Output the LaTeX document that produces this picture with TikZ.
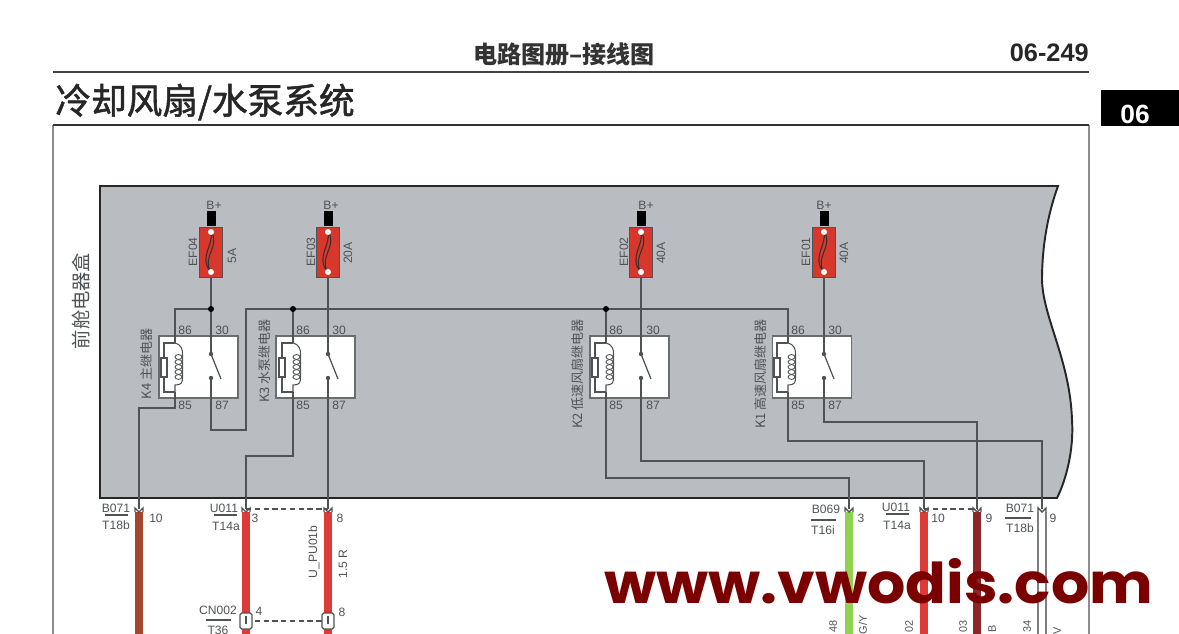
\documentclass[tikz,border=0pt]{standalone}
\usepackage{fontspec}
\setmainfont{Liberation Sans}
\newfontfamily\cjk{Noto Sans CJK SC}
\newfontfamily\cjkmed[FakeBold=1.5]{Noto Sans CJK SC}
\newfontfamily\wmfont{Poppins}
\usetikzlibrary{positioning,arrows.meta}
\definecolor{boxgray}{HTML}{B9BCC1}
\definecolor{inkgray}{HTML}{505355}
\definecolor{fusered}{HTML}{D8372B}
\definecolor{wirered}{HTML}{DE3A38}
\definecolor{wiredark}{HTML}{8E2528}
\definecolor{wirebrown}{HTML}{A5452E}
\definecolor{wiregreen}{HTML}{8FD24F}
\definecolor{wmred}{HTML}{7A0000}
\tikzset{
  wire/.style={draw=inkgray,line width=0.8pt},
  label/.style={inner sep=0pt,text=inkgray,font=\fontsize{6.9}{8}\selectfont},
  vlabel/.style={label,rotate=90},
  cnlabel/.style={vlabel,font=\cjk\fontsize{7.4}{8}\selectfont},
  fusebody/.style={draw=inkgray,line width=0.5pt,fill=fusered,minimum width=0.45cm,minimum height=1cm,inner sep=0pt},
  terminal/.style={fill=black,minimum width=0.18cm,minimum height=0.3cm,inner sep=0pt},
  relaybody/.style={draw=inkgray!85,line width=0.7pt,fill=white,minimum width=1.58cm,minimum height=1.24cm,inner sep=0pt},
  harness/.style={line width=5pt},
  pinbox/.style={draw=inkgray,line width=0.7pt,fill=white,minimum width=0.24cm,minimum height=0.32cm,inner sep=0pt,rounded corners=1pt}
}
\begin{document}
\begin{tikzpicture}[x=0.02cm,y=-0.02cm]
  \pgfmathsetmacro {\fa}{211} %Fuse EF04 and switch K4
  \pgfmathsetmacro {\fb}{328} %Fuse EF03 and switch K3
  \pgfmathsetmacro {\fc}{641} %Fuse EF02 and switch K2
  \pgfmathsetmacro {\fd}{824} %Fuse EF01 and switch K1
  \pgfmathsetmacro {\ca}{175} %Coil line K4
  \pgfmathsetmacro {\cb}{293} %Coil line K3
  \pgfmathsetmacro {\cc}{606} %Coil line K2
  \pgfmathsetmacro {\cd}{788} %Coil line K1
  \pgfmathsetmacro {\bus}{309} %Height of the feed lines
  \pgfmathsetmacro {\wt}{509} %Top of the harness wires

  \useasboundingbox (0,0) rectangle (1179,634);
  \clip (0,0) rectangle (1179,634);

  %Page head
  \node[inner sep=0pt,text=black!80,font=\cjk\bfseries\fontsize{13.7}{15}\selectfont] (head) at (564,54) {电路图册–接线图};
  \node[inner sep=0pt,anchor=east,text=black!85,font=\bfseries\fontsize{14.4}{16}\selectfont] (page) at (1089,53) {06-249};
  \draw[inkgray!80!black,line width=1.4pt] (53,72) -- (1089,72);
  \node[inner sep=0pt,anchor=west,text=black!85,font=\cjkmed\fontsize{20.3}{24}\selectfont] (title) at (55,102) {冷却风扇/水泵系统};
  \fill[black] (1101,90) rectangle (1179,126);
  \node[inner sep=0pt,text=white,font=\bfseries\fontsize{15}{16}\selectfont] (tab) at (1135,114) {06};

  %Frame
  \draw[black!45,line width=0.8pt] (53,125) -- (53,640);
  \draw[black!45,line width=0.8pt] (1089,125) -- (1089,640);
  \draw[black!80,line width=1pt] (53,125) -- (1089,125);

  %Fuse and relay box
  \draw[fill=boxgray,draw=black!85,line width=1.1pt] (100,186) -- (1058,186)
    .. controls (1050,208) and (1042,240) .. (1042,280)
    .. controls (1043,318) and (1070,360) .. (1072,420)
    .. controls (1074,450) and (1066,480) .. (1057,498) -- (100,498) -- cycle;
  \node[vlabel,font=\cjk\fontsize{11}{12}\selectfont] (boxname) at (81,301) {前舱电器盒};

  %Relay K4
  \node[relaybody] (ka) at (198.5,367) {};
  \node[label] (ka86) at (185,330) {86};
  \node[label] (ka30) at (222,330) {30};
  \node[label] (ka85) at (185,405) {85};
  \node[label] (ka87) at (222,405) {87};
  \node[cnlabel] (kaname) at (147,364) {K4 主继电器};
  %Relay K3
  \node[relaybody] (kb) at (315.5,367) {};
  \node[label] (kb86) at (303,330) {86};
  \node[label] (kb30) at (339,330) {30};
  \node[label] (kb85) at (303,405) {85};
  \node[label] (kb87) at (339,405) {87};
  \node[cnlabel] (kbname) at (265,361) {K3 水泵继电器};
  %Relay K2
  \node[relaybody] (kc) at (629.5,367) {};
  \node[label] (kc86) at (616,330) {86};
  \node[label] (kc30) at (653,330) {30};
  \node[label] (kc85) at (616,405) {85};
  \node[label] (kc87) at (653,405) {87};
  \node[cnlabel] (kcname) at (578,374) {K2 低速风扇继电器};
  %Relay K1
  \node[relaybody] (kd) at (812,367) {};
  \node[label] (kd86) at (798,330) {86};
  \node[label] (kd30) at (835,330) {30};
  \node[label] (kd85) at (798,405) {85};
  \node[label] (kd87) at (835,405) {87};
  \node[cnlabel] (kdname) at (761,374) {K1 高速风扇继电器};

  %Draw fuses
  \node[fusebody] (efa) at (\fa,252) {};
  \node[fusebody] (efb) at (\fb,252) {};
  \node[fusebody] (efc) at (\fc,252) {};
  \node[fusebody] (efd) at (\fd,252) {};
  \node[terminal,above=0pt of efa] (tma) {};
  \node[terminal,above=0pt of efb] (tmb) {};
  \node[terminal,above=0pt of efc] (tmc) {};
  \node[terminal,above=0pt of efd] (tmd) {};
  \node[label] (bpa) at (\fa+3,205) {B+};
  \node[label] (bpb) at (\fb+3,205) {B+};
  \node[label] (bpc) at (\fc+5,205) {B+};
  \node[label] (bpd) at (\fd,205) {B+};
  \node[vlabel] (efan) at (193,252) {EF04};
  \node[vlabel] (efbn) at (311,252) {EF03};
  \node[vlabel] (efcn) at (624,252) {EF02};
  \node[vlabel] (efdn) at (806,252) {EF01};
  \node[vlabel] (efav) at (232,256) {5A};
  \node[vlabel] (efbv) at (348,253) {20A};
  \node[vlabel] (efcv) at (661,253) {40A};
  \node[vlabel] (efdv) at (844,253) {40A};

  %Feed lines and junctions
  \coordinate (busa) at (\fa,\bus);
  \coordinate (busb) at (\cb,\bus);
  \coordinate (busc) at (\cc,\bus);
  \coordinate (cola) at (\ca,343);
  \coordinate (colb) at (\cb,343);
  \coordinate (colc) at (\cc,343);
  \coordinate (cold) at (\cd,343);
  \coordinate (cona) at (\fa,354);
  \coordinate (conb) at (\fb,354);
  \coordinate (conc) at (\fc,354);
  \coordinate (cond) at (\fd,354);
  \draw[wire] (efa.south) -- (cona);
  \draw[wire] (efb.south) -- (conb);
  \draw[wire] (efc.south) -- (conc);
  \draw[wire] (efd.south) -- (cond);
  \draw[wire] (busa) -- (\ca,\bus) -- (cola);
  \draw[wire] (\fa,378) -- (\fa,430) -- (246,430) -- (246,\bus) -- (\cd,\bus) -- (cold);
  \draw[wire] (busb) -- (colb);
  \draw[wire] (busc) -- (colc);
  \fill[black] (busa) circle (3);
  \fill[black] (busb) circle (3);
  \fill[black] (busc) circle (3);

  %Draw harness wires
  \draw[harness,wirebrown] (139,512) -- (139,640);
  \draw[harness,wirered] (246,512) -- (246,640);
  \draw[harness,wirered] (328,512) -- (328,640);
  \draw[harness,wiregreen] (849,512) -- (849,640);
  \draw[harness,wirered] (924,512) -- (924,640);
  \draw[harness,wiredark] (977,512) -- (977,640);
  \draw[line width=5.4pt,inkgray!75] (1042,512) -- (1042,640);
  \draw[line width=3.8pt,white] (1042,512) -- (1042,640);

  %Wires from the relays to the harness
  \coordinate (hwa) at (139,\wt);
  \coordinate (hwb) at (246,\wt);
  \coordinate (hwc) at (328,\wt);
  \coordinate (hwd) at (849,\wt);
  \coordinate (hwe) at (924,\wt);
  \coordinate (hwf) at (977,\wt);
  \coordinate (hwg) at (1042,\wt);
  \draw[wire] (\ca,392) -- (\ca,408) -- (139,408) -- (hwa);
  \draw[wire] (\cb,392) -- (\cb,456) -- (246,456) -- (hwb);
  \draw[wire] (\fb,378) -- (hwc);
  \draw[wire] (\cc,392) -- (\cc,478) -- (849,478) -- (hwd);
  \draw[wire] (\fc,378) -- (\fc,461) -- (924,461) -- (hwe);
  \draw[wire] (\cd,392) -- (\cd,441) -- (1042,441) -- (hwg);
  \draw[wire] (\fd,378) -- (\fd,422) -- (977,422) -- (hwf);
  \draw[inkgray,densely dashed,line width=0.7pt] (hwb) -- (hwc);
  \draw[inkgray,densely dashed,line width=0.7pt] (hwe) -- (hwf);

  %Coil and switch of each relay
  \foreach \cx/\sx in {\ca/\fa,\cb/\fb,\cc/\fc,\cd/\fd} {
    \draw[inkgray,line width=0.6pt] (\cx,343) -- (\cx-11,343) -- (\cx-11,392) -- (\cx,392);
    \draw[inkgray,fill=white,line width=0.6pt] (\cx-14,358) rectangle (\cx-8,377);
    \draw[inkgray,line width=0.6pt] (\cx,343) .. controls (\cx+7,345) and (\cx+7.5,350) .. (\cx+7.5,354)
      -- (\cx+7.5,378) .. controls (\cx+7.5,383) and (\cx+6,385) .. (\cx,385) -- (\cx,392);
    \foreach \cy in {357,362,367,372,377}
      \draw[inkgray,line width=0.5pt] (\cx+3.5,\cy) ellipse (3.5 and 2.4);
    \draw[inkgray,line width=0.7pt] (\sx,354) -- (\sx+10,379);
    \fill[inkgray] (\sx,354) circle (2.2);
    \fill[inkgray] (\sx,378) circle (2.2);
    \draw[black!80,line width=0.6pt] (\sx,232) .. controls (\sx+10,245) and (\sx-10,258) .. (\sx,272);
    \draw[black!80,line width=0.6pt] (\sx,232) .. controls (\sx+3,245) and (\sx-13,258) .. (\sx,272);
    \fill[white] (\sx,232) circle (3);
    \fill[white] (\sx,272) circle (3);
  }

  %Connector tips
  \foreach \hx in {139,246,328,849,924,977,1042}
    \draw[inkgray,line width=0.8pt] (\hx-4,512) -- (\hx-4,508) -- (\hx,512) -- (\hx+4,508) -- (\hx+4,512);
  \draw[inkgray,densely dashed,line width=0.7pt] (246,621) -- (328,621);
  \node[pinbox] (pina) at (246,621) {};
  \node[pinbox] (pinb) at (328,621) {};
  \draw[inkgray,line width=0.8pt] (246,616) -- (246,624);
  \draw[inkgray,line width=0.8pt] (328,616) -- (328,624);

  %Connector labels
  \node[label] (cna) at (116,508) {B071};
  \node[label] (cnb) at (116,525) {T18b};
  \draw[inkgray,line width=0.8pt] (105,515) -- (128,515);
  \node[label] (cnc) at (156,518) {10};
  \node[label] (cnd) at (224,508) {U011};
  \node[label] (cne) at (226,526) {T14a};
  \draw[inkgray,line width=0.8pt] (214,515) -- (237,515);
  \node[label] (cnf) at (255,518) {3};
  \node[label] (cng) at (340,518) {8};
  \node[vlabel] (cnh) at (314,552) {U\_PU01b};
  \node[vlabel] (cni) at (343,564) {1.5 R};
  \node[label] (cnj) at (218,610) {CN002};
  \node[label] (cnk) at (218,630) {T36};
  \draw[inkgray,line width=0.8pt] (206,620) -- (231,620);
  \node[label] (cnl) at (259,611) {4};
  \node[label] (cnm) at (342,612) {8};
  \node[label] (cnn) at (826,509) {B069};
  \node[label] (cno) at (823,530) {T16i};
  \draw[inkgray,line width=0.8pt] (811,520) -- (836,520);
  \node[label] (cnp) at (861,518) {3};
  \node[label] (cnq) at (896,507) {U011};
  \node[label] (cnr) at (897,525) {T14a};
  \draw[inkgray,line width=0.8pt] (886,514) -- (909,514);
  \node[label] (cns) at (938,518) {10};
  \node[label] (cnt) at (989,518) {9};
  \node[label] (cnu) at (1020,508) {B071};
  \node[label] (cnv) at (1020,528) {T18b};
  \draw[inkgray,line width=0.8pt] (1005,518) -- (1031,518);
  \node[label] (cnw) at (1053,518) {9};

  %Wire names at the foot of the page
  \node[vlabel,anchor=east,font=\fontsize{6.2}{7}\selectfont] (wna) at (833,620) {48};
  \node[vlabel,anchor=east,font=\fontsize{6.2}{7}\selectfont] (wnb) at (863,615) {G/Y};
  \node[vlabel,anchor=east,font=\fontsize{6.2}{7}\selectfont] (wnc) at (909,620) {02};
  \node[vlabel,anchor=east,font=\fontsize{6.2}{7}\selectfont] (wnd) at (963,620) {03};
  \node[vlabel,anchor=east,font=\fontsize{6.2}{7}\selectfont] (wne) at (992,625) {B};
  \node[vlabel,anchor=east,font=\fontsize{6.2}{7}\selectfont] (wnf) at (1027,620) {34};
  \node[vlabel,anchor=east,font=\fontsize{6.2}{7}\selectfont] (wng) at (1057,627) {V};

  %Watermark
  \node[inner sep=0pt,anchor=base west,text=wmred,font=\wmfont\bfseries\fontsize{32}{36}\selectfont] (mark) at (604,603) {\scalebox{1.07}[1]{www.vwodis.com}};
\end{tikzpicture}
\end{document}
